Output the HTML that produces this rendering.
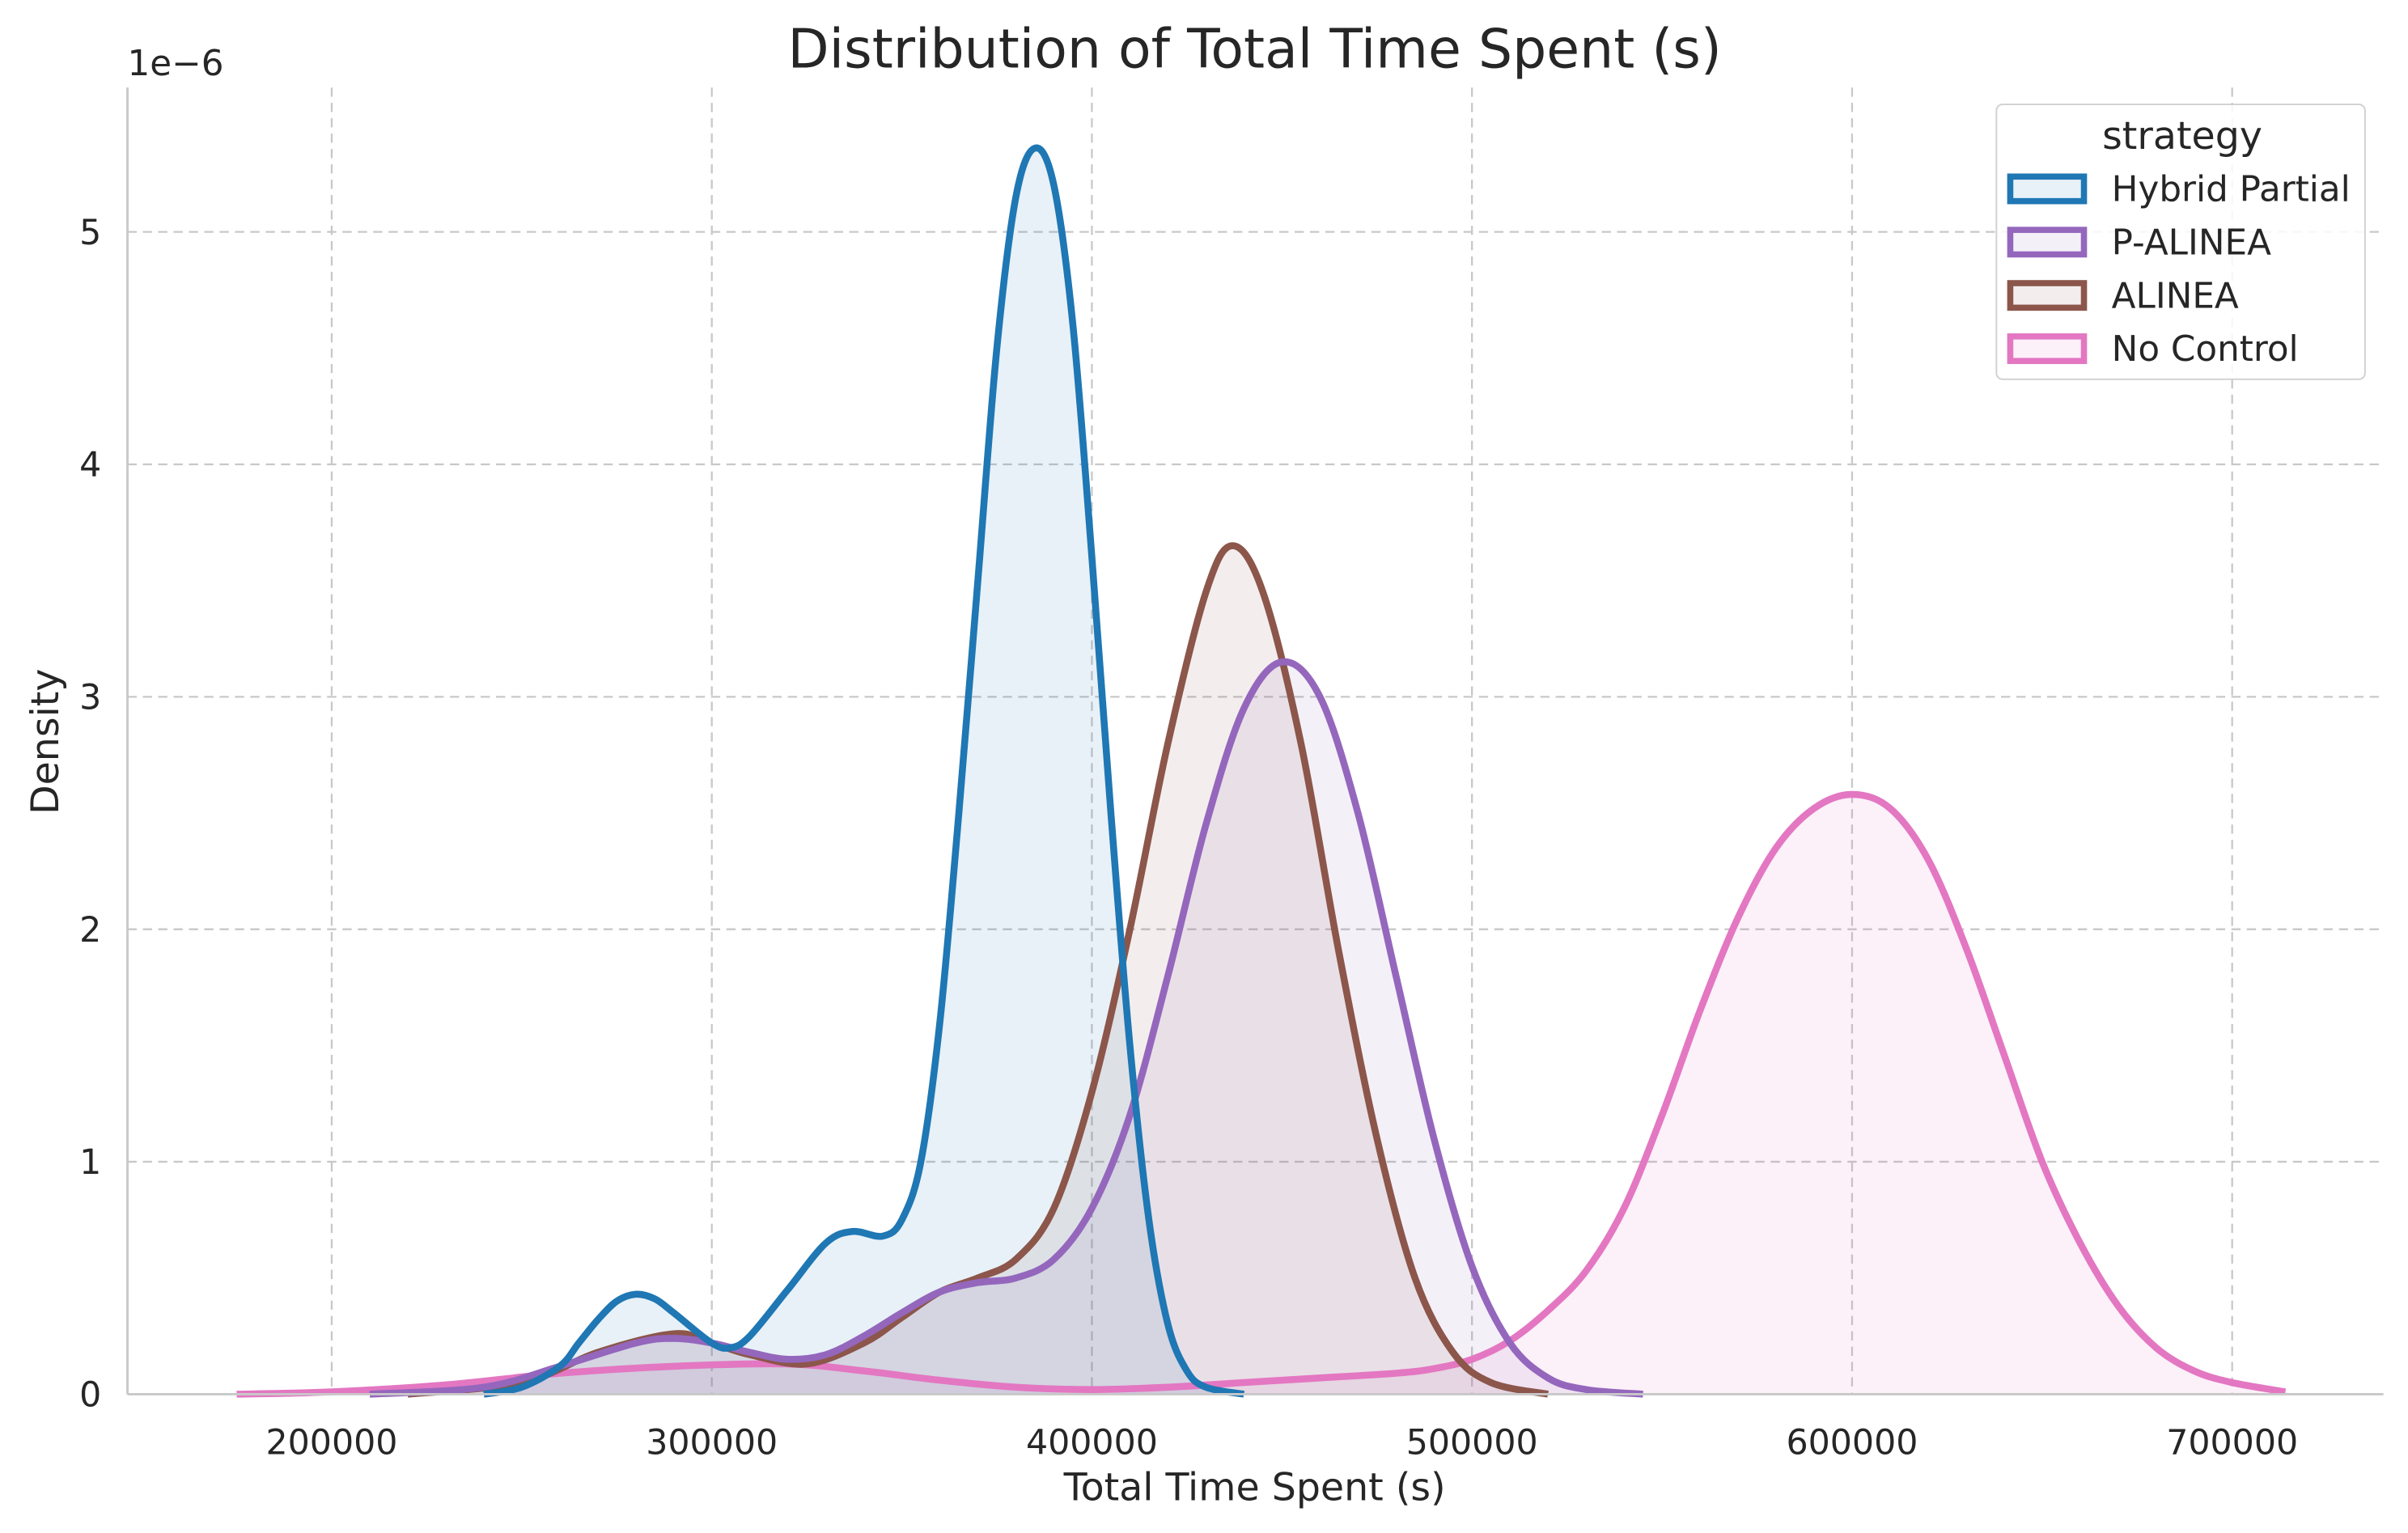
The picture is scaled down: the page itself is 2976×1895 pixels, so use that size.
<!DOCTYPE html>
<html><head><meta charset="utf-8"><style>
html,body{margin:0;padding:0;background:#fff;}
svg{display:block;font-family:"DejaVu Sans","Liberation Sans",sans-serif;}
</style></head><body>
<svg id="chart" width="2976" height="1895" viewBox="0 0 1568 998.4" preserveAspectRatio="none" xmlns="http://www.w3.org/2000/svg">
<rect width="1568" height="998.4" fill="#fff"/>
<g id="grid"></g>
<g id="fills"></g>
<g id="lines"></g>
<line x1="83" y1="908" x2="1552" y2="908" stroke="#c8c8c8" stroke-width="1.5"/>
<line x1="83" y1="57" x2="83" y2="908" stroke="#c8c8c8" stroke-width="1.5"/>
<g id="ticks" font-size="22.5" fill="#262626"></g>
<text x="817" y="44" font-size="35" text-anchor="middle" fill="#262626">Distribution of Total Time Spent (s)</text>
<text x="817" y="977" font-size="25" text-anchor="middle" fill="#262626">Total Time Spent (s)</text>
<text x="38" y="483" font-size="25" text-anchor="middle" fill="#262626" transform="rotate(-90 38 483)">Density</text>
<text x="83" y="49" font-size="23" fill="#262626">1e−6</text>
<g>
<rect x="1300" y="68" width="240" height="179" rx="4" fill="#fff" fill-opacity="0.85" stroke="#d0d0d0"/>
<text x="1421" y="97" font-size="25" text-anchor="middle" fill="#262626">strategy</text>
<g id="legend-items"></g>
</g>
</svg>
<script>
const categories = ["Hybrid Partial","P-ALINEA","ALINEA","No Control"];
const colors = ["#1f77b4","#9467bd","#8c564b","#e377c2"];
const xTicks = [200000,300000,400000,500000,600000,700000];
const yTicks = [0,1,2,3,4,5];
const hybridX = [240000,250000,260000,265000,270000,275000,280000,285000,290000,300000,305000,310000,320000,330000,337000,345000,350000,355000,360000,365000,370000,375000,380000,385000,390000,395000,400000,405000,410000,415000,420000,425000,430000,440000];
const hybridY = [0,0.03,0.12,0.22,0.32,0.4,0.43,0.41,0.35,0.22,0.2,0.25,0.45,0.65,0.7,0.68,0.75,1.0,1.6,2.5,3.5,4.5,5.15,5.36,5.2,4.6,3.6,2.5,1.5,0.75,0.3,0.1,0.03,0];
const palineaX = [210000,240000,260000,280000,290000,300000,310000,320000,330000,340000,350000,360000,370000,380000,390000,400000,410000,420000,430000,440000,450000,460000,470000,480000,490000,500000,510000,520000,530000,545000];
const palineaY = [0,0.03,0.12,0.22,0.24,0.22,0.18,0.15,0.17,0.25,0.35,0.44,0.48,0.5,0.58,0.8,1.2,1.8,2.45,2.95,3.15,3.0,2.5,1.8,1.1,0.55,0.22,0.07,0.02,0];
const alineaX = [220000,250000,270000,290000,300000,310000,325000,340000,350000,360000,370000,380000,390000,400000,410000,420000,430000,437000,445000,455000,465000,475000,485000,495000,505000,520000];
const alineaY = [0,0.05,0.18,0.26,0.22,0.17,0.13,0.22,0.33,0.44,0.5,0.58,0.8,1.3,2.0,2.8,3.45,3.65,3.45,2.8,1.9,1.1,0.5,0.18,0.05,0];
const noCtrlX = [175000,200000,230000,260000,290000,320000,340000,360000,380000,400000,420000,440000,460000,480000,490000,500000,510000,520000,530000,540000,550000,560000,570000,580000,590000,600000,610000,620000,630000,640000,650000,660000,670000,680000,690000,700000,714000];
const noCtrlY = [0,0.01,0.04,0.09,0.12,0.13,0.1,0.06,0.03,0.02,0.03,0.05,0.07,0.09,0.11,0.15,0.23,0.36,0.53,0.8,1.2,1.65,2.05,2.35,2.52,2.58,2.52,2.3,1.92,1.46,1.0,0.65,0.38,0.2,0.1,0.05,0.01];

const NS="http://www.w3.org/2000/svg";
const X0=83,X1=1552,Y0=908,Y1=57;
const xScale=v=>216+(v-200000)*0.002475;
const yScale=v=>908-v*151.4;
function mk(tag,attrs,parent){const e=document.createElementNS(NS,tag);for(const k in attrs)e.setAttribute(k,attrs[k]);parent.appendChild(e);return e;}
const grid=document.getElementById('grid'),ticks=document.getElementById('ticks');
xTicks.forEach(t=>{const x=xScale(t);
 const l=mk('line',{x1:x,x2:x,y1:Y1,y2:Y0,stroke:'#c8c8c8','stroke-dasharray':'6,4','stroke-width':1.2},grid);
 
 
 const tx=mk('text',{x:x,y:Y0+39,'text-anchor':'middle'},ticks);tx.textContent=t;
 
 });
yTicks.forEach(t=>{const y=yScale(t);
 const l=mk('line',{x1:X0,x2:X1,y1:y,y2:y,stroke:'#c8c8c8','stroke-dasharray':'6,4','stroke-width':1.2},grid);
 
 
 const tx=mk('text',{x:X0-17,y:y+8,'text-anchor':'end'},ticks);tx.textContent=t;
 
 });
function pathD(xs,ys){const p=xs.map((v,i)=>[xScale(v),yScale(ys[i])]);let d=`M${p[0][0]},${p[0][1]}`;
 for(let i=0;i<p.length-1;i++){const a=p[i-1]||p[i],b=p[i],c=p[i+1],e=p[i+2]||c;
  const c1=[b[0]+(c[0]-a[0])/6,b[1]+(c[1]-a[1])/6],c2=[c[0]-(e[0]-b[0])/6,c[1]-(e[1]-b[1])/6];
  c1[1]=Math.min(c1[1],Y0);c2[1]=Math.min(c2[1],Y0);
  d+=`C${c1[0]},${c1[1]} ${c2[0]},${c2[1]} ${c[0]},${c[1]}`;}
 return {d,x0:p[0][0],x1:p[p.length-1][0]};}
const series=[[hybridX,hybridY],[palineaX,palineaY],[alineaX,alineaY],[noCtrlX,noCtrlY]];
const names=['hybrid-partial','p-alinea','alinea','no-control'];
const fills=document.getElementById('fills'),lines=document.getElementById('lines');
for(let i=3;i>=0;i--){const r=pathD(series[i][0],series[i][1]);
 const f=mk('path',{d:r.d+`L${r.x1},${Y0}L${r.x0},${Y0}Z`,fill:colors[i],'fill-opacity':0.1},fills);
 
 
 const l=mk('path',{d:r.d,fill:'none',stroke:colors[i],'stroke-width':4.5,'stroke-linejoin':'round'},lines);
 
 }
const li=document.getElementById('legend-items');
categories.forEach((c,i)=>{const y=123+i*34.7;
 const g=mk('g',{},li);
 
 
 mk('rect',{x:1309,y:y-8,width:48,height:16,fill:colors[i],'fill-opacity':0.1,stroke:colors[i],'stroke-width':4},g);
 const t=mk('text',{x:1375,y:y+8,'font-size':23,fill:'#262626'},g);t.textContent=c;});
</script>
</body></html>
